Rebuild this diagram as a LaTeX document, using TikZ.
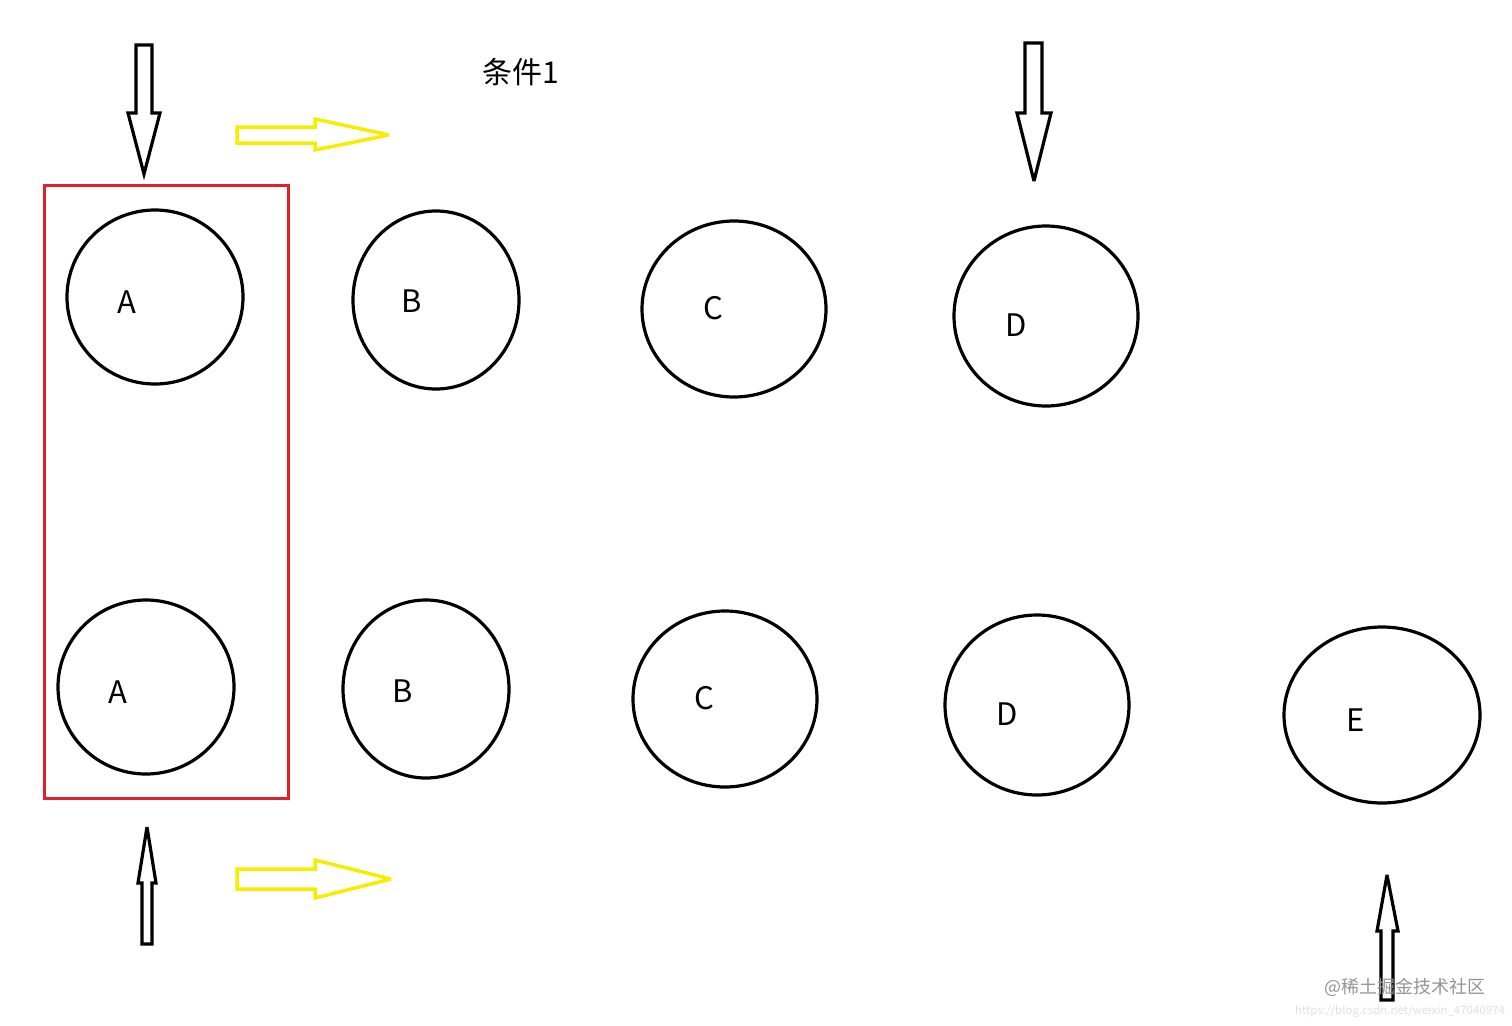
\documentclass[tikz,border=0pt]{standalone}
\usepackage{fontspec}
\newfontfamily\cjk{Noto Sans CJK SC}
\usetikzlibrary{shapes.geometric}
\definecolor{arrowyellow}{HTML}{F5EE00}
\definecolor{boxred}{HTML}{E0202A}
\begin{document}
\begin{tikzpicture}[x=1pt,y=-1pt,
  circ/.style={draw=black,line width=3.2pt,ellipse,inner sep=0pt},
  lbl/.style={font=\cjk\fontsize{31}{36}\selectfont,inner sep=0pt},
  blackarrow/.style={draw=black,line width=3.2pt,line join=miter,miter limit=4,fill=white},
  yellowarrow/.style={draw=arrowyellow,line width=3.5pt,line join=miter,miter limit=4}]
\useasboundingbox (0,0) rectangle (1512,1025);
% red frame
\node[draw=boxred,line width=3pt,minimum width=244pt,minimum height=613pt,inner sep=0pt] (frame) at (166,491.5) {};
% top row
\node[circ,minimum width=176pt,minimum height=174pt] (a1) at (155,297) {};
\node[circ,minimum width=166pt,minimum height=178pt] (b1) at (436,300) {};
\node[circ,minimum width=184pt,minimum height=176pt] (c1) at (734,309) {};
\node[circ,minimum width=184pt,minimum height=180pt] (d1) at (1046,316) {};
% bottom row
\node[circ,minimum width=176pt,minimum height=174pt] (a2) at (146,687) {};
\node[circ,minimum width=166pt,minimum height=178pt] (b2) at (426,689) {};
\node[circ,minimum width=184pt,minimum height=176pt] (c2) at (725,699) {};
\node[circ,minimum width=184pt,minimum height=180pt] (d2) at (1037,705) {};
\node[circ,minimum width=196pt,minimum height=176pt] (e2) at (1382,715) {};
% labels
\node[lbl] (la1) at (127,302) {A};
\node[lbl] (lb1) at (412,301) {B};
\node[lbl] (lc1) at (713,308) {C};
\node[lbl] (ld1) at (1016,325) {D};
\node[lbl] (la2) at (118,692) {A};
\node[lbl] (lb2) at (403,691) {B};
\node[lbl] (lc2) at (704,698) {C};
\node[lbl] (ld2) at (1007,714) {D};
\node[lbl] (le2) at (1356,720) {E};
\node[font=\cjk\fontsize{30}{34}\selectfont,inner sep=0pt] (cond) at (521,72) {条件1};
% black arrows
\draw[blackarrow] (136,45) -- (152,45) -- (152,113) -- (160,113) -- (144,174) -- (128,113) -- (136,113) -- cycle;
\draw[blackarrow] (1025,43) -- (1042,43) -- (1042,113) -- (1051,113) -- (1034,181) -- (1017,113) -- (1025,113) -- cycle;
\draw[blackarrow] (142,944) -- (152,944) -- (152,883) -- (156,883) -- (147,827) -- (138,883) -- (142,883) -- cycle;
\draw[blackarrow] (1381,1000) -- (1393,1000) -- (1393,931) -- (1398,931) -- (1387,875) -- (1377,931) -- (1381,931) -- cycle;
% yellow arrows
\draw[yellowarrow] (237,127) -- (315,127) -- (315,119) -- (389,135) -- (315,150) -- (315,143) -- (237,143) -- cycle;
\draw[yellowarrow] (237,869) -- (315,869) -- (315,860) -- (391,879) -- (315,898) -- (315,889) -- (237,889) -- cycle;
% watermark
\node[font=\cjk\fontsize{18}{20}\selectfont,text=black!42,inner sep=0pt] (wm1) at (1405,987) {@稀土掘金技术社区};
\node[font=\cjk\fontsize{11.5}{13}\selectfont,text=black!12,inner sep=0pt] (wm2) at (1400,1011) {https://blog.csdn.net/weixin\_47040974};
\end{tikzpicture}
\end{document}
